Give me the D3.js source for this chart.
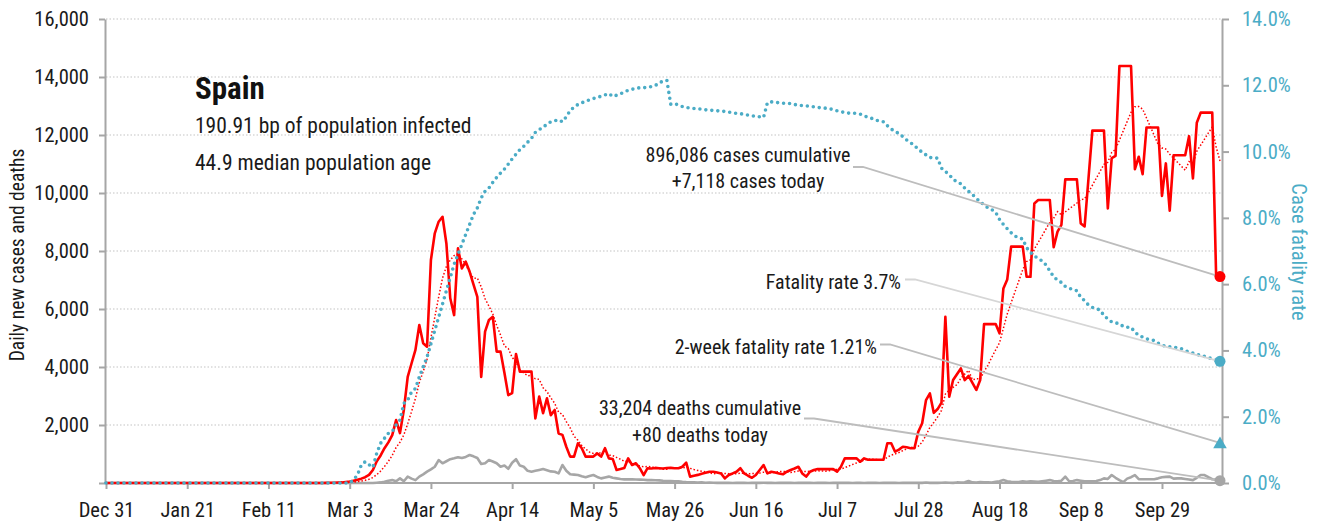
<!DOCTYPE html>
<html>
<head>
<meta charset="utf-8">
<script src="https://cdn.jsdelivr.net/npm/d3@7"></script>
<style>
  body { margin: 0; background: #fff; }
  text { font-family: "Roboto Condensed", "Liberation Sans Narrow", sans-serif; }
</style>
</head>
<body>
<div id="chart"></div>
<script>
///// DATA /////

// one value per day, starting Dec 31
var startDate = new Date(2019, 11, 31);

var cases = [
  0, 0, 0, 0, 0, 0, 0, 0, 0, 0,
  0, 0, 0, 0, 0, 0, 0, 0, 0, 0,
  0, 0, 0, 0, 0, 0, 0, 0, 0, 0,
  0, 0, 0, 0, 0, 0, 0, 0, 0, 0,
  0, 0, 0, 0, 0, 0, 0, 0, 0, 0,
  0, 0, 0, 0, 0, 0, 2, 5, 10, 8,
  15, 20, 35, 50, 80, 110, 150, 200, 280, 450,
  750, 950, 1200, 1400, 1650, 2170, 1720, 2520, 3660, 4130,
  4590, 5450, 4820, 4700, 7690, 8610, 9010, 9180, 8260, 6370,
  5790, 8090, 7400, 7630, 7290, 6850, 6420, 3660, 5220, 5620,
  5730, 4530, 4530, 3800, 3030, 3100, 4450, 3840, 3840, 3840,
  3840, 2230, 2980, 2410, 2920, 2340, 2520, 1710, 1660, 1250,
  910, 910, 1370, 1200, 910, 910, 910, 1020, 910, 1200,
  850, 830, 450, 480, 520, 850, 620, 680, 510, 275,
  510, 500, 520, 510, 500, 515, 520, 510, 510, 560,
  700, 220, 250, 280, 320, 350, 390, 390, 360, 330,
  160, 275, 330, 390, 510, 330, 250, 180, 275, 450,
  620, 330, 390, 360, 330, 300, 390, 450, 500, 560,
  330, 220, 390, 450, 480, 480, 480, 480, 480, 390,
  560, 850, 850, 850, 850, 735, 850, 800, 800, 800,
  800, 800, 1370, 1370, 1080, 1150, 1250, 1230, 1200, 1200,
  1770, 2060, 2860, 3090, 2420, 2550, 2770, 5730, 2980, 3550,
  3750, 3950, 3550, 3690, 3450, 3210, 3550, 5480, 5480, 5480,
  5480, 5160, 6710, 7020, 8150, 8150, 8150, 8150, 7110, 7110,
  9640, 9760, 9760, 9760, 9760, 8130, 8670, 8900, 10470, 10470,
  10470, 10470, 8950, 8850, 10500, 12150, 12150, 12150, 12150, 9470,
  11200, 11280, 14380, 14380, 14380, 14380, 10820, 11250, 10650, 12260,
  12260, 12260, 12260, 9900, 11020, 9390, 11300, 11300, 11300, 11300,
  11960, 10500, 12420, 12770, 12770, 12770, 12770, 7118, 7118
];

var deaths = [
  0, 0, 0, 0, 0, 0, 0, 0, 0, 0,
  0, 0, 0, 0, 0, 0, 0, 0, 0, 0,
  0, 0, 0, 0, 0, 0, 0, 0, 0, 0,
  0, 0, 0, 0, 0, 0, 0, 0, 0, 0,
  0, 0, 0, 0, 0, 0, 0, 0, 0, 0,
  0, 0, 0, 0, 0, 0, 0, 0, 0, 0,
  0, 0, 0, 0, 0, 0, 0, 0, 0, 0,
  10, 20, 40, 80, 100, 60, 160, 60, 220, 150,
  100, 220, 300, 390, 470, 560, 790, 680, 750, 820,
  850, 890, 860, 900, 965, 920, 860, 655, 680, 790,
  740, 680, 560, 600, 490, 700, 820, 600, 560, 420,
  390, 420, 450, 480, 440, 400, 390, 330, 620, 420,
  300, 290, 275, 230, 200, 240, 275, 210, 160, 190,
  220, 180, 160, 140, 125, 125, 125, 120, 115, 110,
  100, 100, 95, 90, 75, 70, 65, 60, 55, 40,
  30, 25, 20, 15, 20, 10, 15, 10, 5, 10,
  5, 10, 0, 5, 10, 5, 0, 10, 5, 5,
  10, 5, 5, 0, 10, 5, 5, 10, 0, 5,
  5, 10, 5, 0, 5, 10, 5, 0, 5, 10,
  5, 5, 10, 0, 5, 5, 0, 10, 5, 5,
  0, 10, 5, 5, 10, 0, 5, 10, 5, 5,
  10, 5, 15, 5, 10, 5, 10, 15, 10, 5,
  20, 15, 25, 70, 20, 15, 30, 25, 20, 15,
  40, 60, 100, 60, 40, 30, 30, 60, 40, 60,
  50, 40, 60, 80, 100, 70, 60, 80, 220, 60,
  70, 100, 80, 60, 60, 60, 70, 100, 160, 140,
  275, 180, 100, 30, 150, 200, 275, 130, 130, 130,
  130, 130, 160, 200, 210, 220, 150, 160, 160, 140,
  120, 100, 180, 275, 275, 200, 130, 110, 80
];

// case fatality rate, percent
var cfr = [
  0, 0, 0, 0, 0, 0, 0, 0, 0, 0,
  0, 0, 0, 0, 0, 0, 0, 0, 0, 0,
  0, 0, 0, 0, 0, 0, 0, 0, 0, 0,
  0, 0, 0, 0, 0, 0, 0, 0, 0, 0,
  0, 0, 0, 0, 0, 0, 0, 0, 0, 0,
  0, 0, 0, 0, 0, 0, 0, 0, 0, 0,
  0, 0, 0, 0, 0.1, 0.24, 0.54, 0.64, 0.55, 0.47,
  0.9, 1.2, 1.35, 1.5, 1.55, 1.75, 1.9, 2.4, 2.5, 2.75,
  2.85, 3.2, 3.5, 3.8, 4.2, 4.6, 5.0, 5.4, 5.8, 6.2,
  6.6, 6.9, 7.2, 7.5, 7.8, 8.1, 8.3, 8.6, 8.8, 8.9,
  9.07, 9.22, 9.35, 9.47, 9.62, 9.78, 9.92, 10.06, 10.16, 10.28,
  10.4, 10.58, 10.66, 10.74, 10.82, 10.9, 10.93, 10.96, 10.9, 11.05,
  11.24, 11.34, 11.42, 11.47, 11.52, 11.56, 11.6, 11.63, 11.67, 11.71,
  11.75, 11.66, 11.7, 11.74, 11.8, 11.85, 11.88, 11.9, 11.93, 11.93,
  11.93, 11.96, 11.99, 12.08, 12.12, 12.15, 11.43, 11.45, 11.4, 11.36,
  11.33, 11.31, 11.3, 11.3, 11.27, 11.26, 11.25, 11.24, 11.23, 11.22,
  11.21, 11.19, 11.17, 11.15, 11.14, 11.13, 11.1, 11.08, 11.06, 11.05,
  11.03, 11.48, 11.5, 11.49, 11.47, 11.46, 11.45, 11.45, 11.42, 11.4,
  11.39, 11.38, 11.36, 11.35, 11.33, 11.32, 11.31, 11.29, 11.27, 11.23,
  11.2, 11.18, 11.16, 11.16, 11.15, 11.13, 11.08, 11.03, 11.0, 10.95,
  10.92, 10.9, 10.78, 10.68, 10.6, 10.55, 10.45, 10.35, 10.27, 10.18,
  10.07, 9.98, 9.9, 9.82, 9.81, 9.8, 9.5, 9.4, 9.3, 9.17,
  9.08, 9.03, 8.9, 8.8, 8.7, 8.6, 8.47, 8.4, 8.3, 8.25,
  8.17, 7.95, 7.8, 7.67, 7.55, 7.45, 7.4, 7.36, 7.1, 6.96,
  6.85, 6.78, 6.7, 6.58, 6.4, 6.22, 6.12, 6.05, 5.93, 5.88,
  5.83, 5.8, 5.6, 5.5, 5.37, 5.3, 5.26, 5.22, 5.05, 4.95,
  4.86, 4.83, 4.81, 4.72, 4.7, 4.7, 4.55, 4.46, 4.4, 4.35,
  4.32, 4.3, 4.22, 4.16, 4.12, 4.11, 4.1, 4.08, 4.05, 4.0,
  3.95, 3.92, 3.88, 3.85, 3.82, 3.78, 3.75, 3.7, 3.67
];

var leftTicks = [0, 2000, 4000, 6000, 8000, 10000, 12000, 14000, 16000];
var rightTicks = [0, 2, 4, 6, 8, 10, 12, 14];
var xTickLabels = ["Dec 31", "Jan 21", "Feb 11", "Mar 3", "Mar 24", "Apr 14", "May 5",
  "May 26", "Jun 16", "Jul 7", "Jul 28", "Aug 18", "Sep 8", "Sep 29"];

var countryName = "Spain";
var infoLines = ["190.91 bp of population infected", "44.9 median population age"];

var totalCases = 896086;
var totalDeaths = 33204;
var fatalityRate = 3.7;
var twoWeekRate = 1.21;

///// SET UP /////

var width = 1320;
var height = 522;

var blue = "#4bacc6";
var red = "#ff0000";
var grey = "#a6a6a6";
var ink = "#1a1a1a";
var fmt = d3.format(",");

var svg = d3.select("#chart").append("svg")
  .attr("width", width)
  .attr("height", height);

svg.append("rect")
  .attr("width", "100%")
  .attr("height", "100%")
  .attr("fill", "#fff");

var dates = cases.map(function (v, i) { return d3.timeDay.offset(startDate, i); });
var last = cases.length - 1;

var x = d3.scaleTime()
  .domain([dates[0], dates[last]])
  .range([106, 1220]);

var yL = d3.scaleLinear().domain([0, 16000]).range([483, 19]);
var yR = d3.scaleLinear().domain([0, 14]).range([483, 19]);
var rightX = 1222;

// 7 day trailing average of daily cases
var casesAvg = cases.map(function (v, i) {
  return d3.mean(cases.slice(Math.max(0, i - 6), i + 1));
});

///// GRID + AXES /////

svg.append("g").selectAll("line")
  .data(leftTicks.filter(function (d) { return d > 0; }))
  .join("line")
  .attr("x1", 106).attr("x2", rightX)
  .attr("y1", function (d) { return yL(d); })
  .attr("y2", function (d) { return yL(d); })
  .attr("stroke", "#c4c4c4")
  .attr("stroke-width", 1.2)
  .attr("stroke-dasharray", "1.5,2");

var gLeft = svg.append("g")
  .attr("transform", "translate(105,0)")
  .call(d3.axisLeft(yL).tickValues(leftTicks).tickSize(6).tickSizeOuter(0).tickPadding(10)
    .tickFormat(function (d) { return d ? fmt(d) : ""; }));

var gRight = svg.append("g")
  .attr("transform", "translate(" + rightX + ",0)")
  .call(d3.axisRight(yR).tickValues(rightTicks).tickSize(7).tickSizeOuter(0).tickPadding(13)
    .tickFormat(function (d) { return d.toFixed(1) + "%"; }));

var tickDates = xTickLabels.map(function (l, i) { return d3.timeDay.offset(startDate, 21 * i); });
var gBottom = svg.append("g")
  .attr("transform", "translate(0,483)")
  .call(d3.axisBottom(x).tickValues(tickDates).tickSize(6).tickSizeOuter(0).tickPadding(13)
    .tickFormat(function (d, i) { return xTickLabels[i]; }));
gBottom.select(".domain").remove();
svg.append("line")
  .attr("x1", 104).attr("x2", rightX + 1)
  .attr("y1", 483).attr("y2", 483)
  .attr("stroke", grey).attr("stroke-width", 2);

[gLeft, gRight, gBottom].forEach(function (g) {
  g.selectAll(".domain, .tick line").attr("stroke", grey).attr("stroke-width", 2);
  g.selectAll(".tick text").style("font-size", "20.5px").attr("fill", ink);
});
gRight.selectAll(".tick text").attr("fill", blue);

svg.append("text")
  .attr("transform", "translate(24,255) rotate(-90)")
  .attr("text-anchor", "middle")
  .style("font-size", "19.5px")
  .attr("fill", ink)
  .text("Daily new cases and deaths");

svg.append("text")
  .attr("transform", "translate(1292,252) rotate(90)")
  .attr("text-anchor", "middle")
  .style("font-size", "20.5px")
  .attr("fill", blue)
  .text("Case fatality rate");

///// LINES /////

var lineL = function (arr) {
  return d3.line()
    .x(function (d, i) { return x(dates[i]); })
    .y(function (d) { return yL(d); })(arr);
};

svg.append("path")
  .attr("d", lineL(deaths))
  .attr("fill", "none")
  .attr("stroke", grey)
  .attr("stroke-width", 2.6)
  .attr("stroke-linejoin", "round");

svg.append("path")
  .attr("d", lineL(cases))
  .attr("fill", "none")
  .attr("stroke", red)
  .attr("stroke-width", 2.6)
  .attr("stroke-linejoin", "round");

svg.append("path")
  .attr("d", lineL(casesAvg))
  .attr("fill", "none")
  .attr("stroke", red)
  .attr("stroke-width", 1.5)
  .attr("stroke-dasharray", "1.5,2");

svg.append("path")
  .attr("d", d3.line()
    .x(function (d, i) { return x(dates[i]); })
    .y(function (d) { return yR(d); })(cfr))
  .attr("fill", "none")
  .attr("stroke", blue)
  .attr("stroke-width", 3.6)
  .attr("stroke-linecap", "round")
  .attr("stroke-dasharray", "0,6");

///// TITLE /////

svg.append("text")
  .attr("x", 195).attr("y", 99)
  .style("font-size", "31px")
  .style("font-weight", "bold")
  .attr("fill", "#111")
  .text(countryName);

svg.append("g").selectAll("text")
  .data(infoLines)
  .join("text")
  .attr("x", 195)
  .attr("y", function (d, i) { return 133 + i * 37; })
  .style("font-size", "21.5px")
  .attr("fill", ink)
  .text(function (d) { return d; });

///// ANNOTATIONS /////

var xEnd = x(dates[last]);
var notes = [
  { lines: [fmt(totalCases) + " cases cumulative", "+" + fmt(cases[last]) + " cases today"],
    tx: 748, ty: 161.5, anchor: "middle", lx: 853, ly: 167, ty2: yL(cases[last]), stroke: "#bdbdbd" },
  { lines: ["Fatality rate " + fatalityRate + "%"],
    tx: 901, ty: 289, anchor: "end", lx: 905, ly: 279.5, ty2: yR(cfr[last]), stroke: "#d6d6d6" },
  { lines: ["2-week fatality rate " + twoWeekRate + "%"],
    tx: 877, ty: 354, anchor: "end", lx: 880, ly: 344.5, ty2: yR(twoWeekRate), stroke: "#bdbdbd" },
  { lines: [fmt(totalDeaths) + " deaths cumulative", "+" + deaths[last] + " deaths today"],
    tx: 700, ty: 415, anchor: "middle", lx: 804, ly: 418.5, ty2: yL(deaths[last]), stroke: "#bdbdbd" }
];

notes.forEach(function (n) {
  svg.append("path")
    .attr("d", "M" + n.lx + "," + n.ly + "H" + (n.lx + 10) + "L" + xEnd + "," + n.ty2)
    .attr("fill", "none")
    .attr("stroke", n.stroke)
    .attr("stroke-width", 1.8);

  svg.append("g").selectAll("text")
    .data(n.lines)
    .join("text")
    .attr("x", n.tx)
    .attr("y", function (d, i) { return n.ty + i * 26.5; })
    .attr("text-anchor", n.anchor)
    .style("font-size", "20px")
    .attr("fill", ink)
    .text(function (d) { return d; });
});

///// END MARKERS /////

svg.append("circle")
  .attr("cx", xEnd).attr("cy", yL(cases[last])).attr("r", 5.5).attr("fill", red);
svg.append("circle")
  .attr("cx", xEnd).attr("cy", yR(cfr[last])).attr("r", 5.5).attr("fill", blue);
svg.append("path")
  .attr("transform", "translate(" + xEnd + "," + (yR(twoWeekRate) + 1.5) + ")")
  .attr("d", d3.symbol().type(d3.symbolTriangle).size(80)())
  .attr("fill", blue);
svg.append("circle")
  .attr("cx", xEnd).attr("cy", yL(deaths[last])).attr("r", 5.5).attr("fill", grey);
</script>
</body>
</html>
